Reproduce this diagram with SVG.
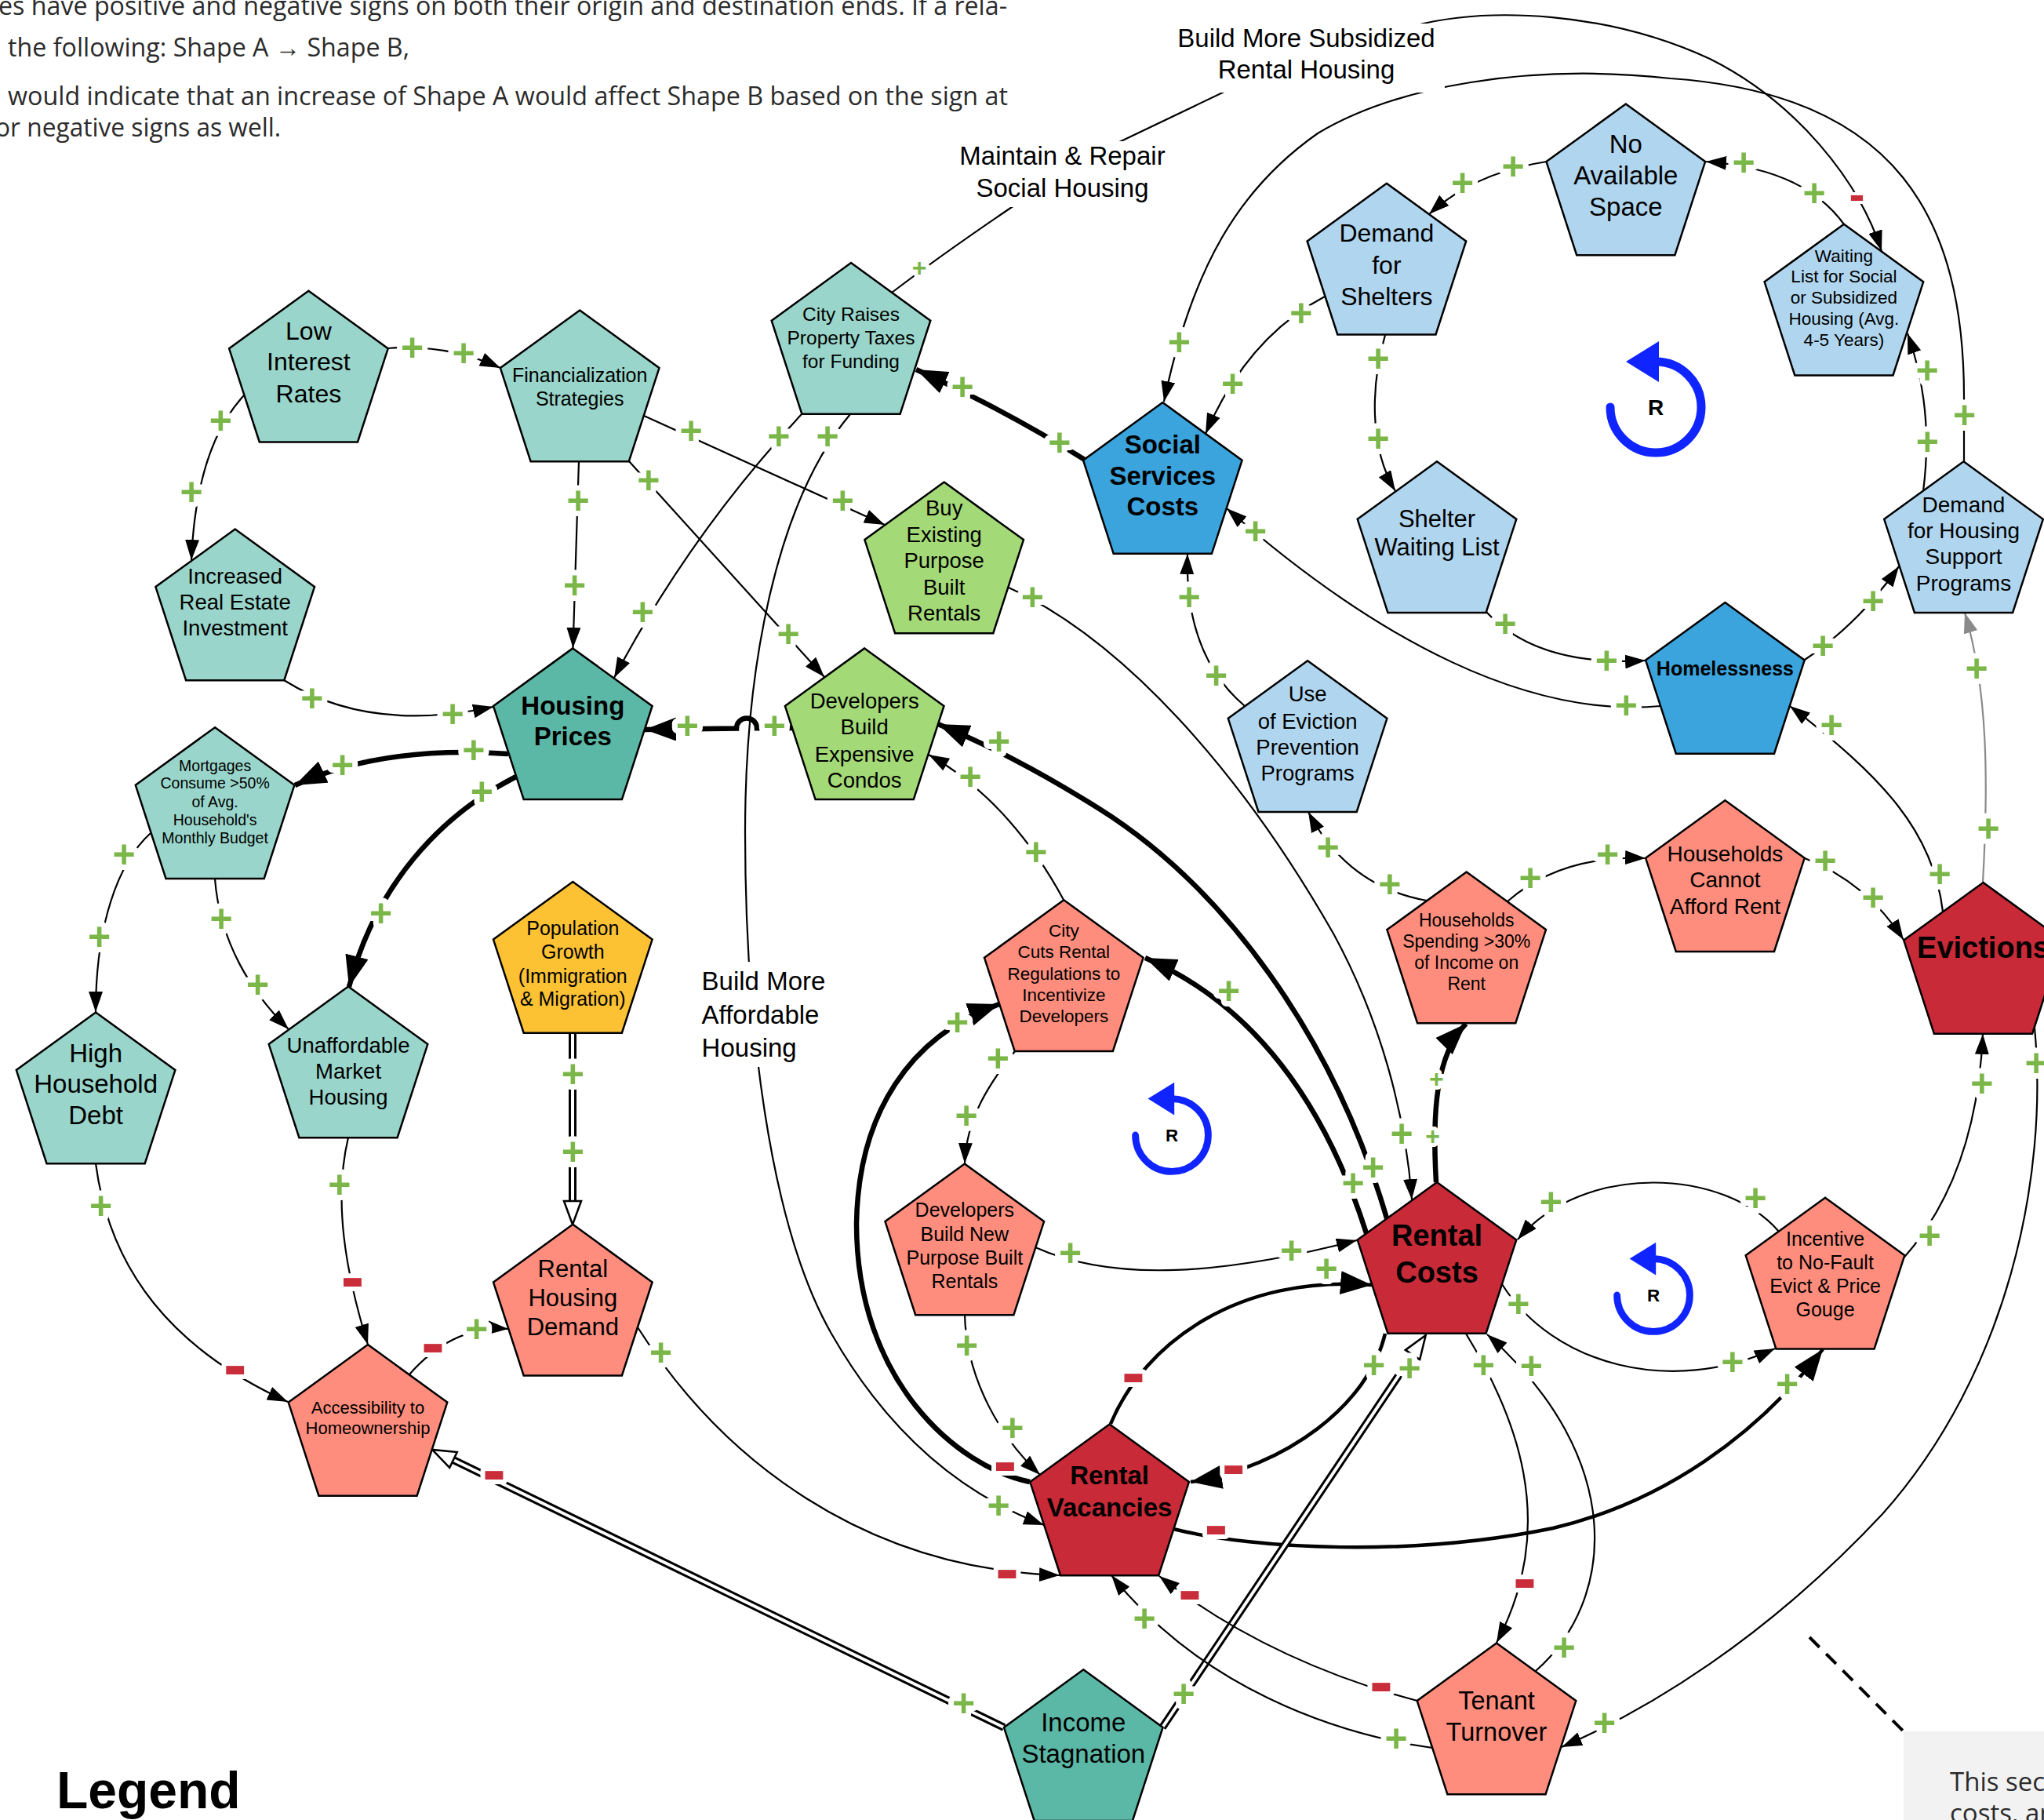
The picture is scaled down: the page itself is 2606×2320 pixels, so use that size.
<svg xmlns="http://www.w3.org/2000/svg" width="2606" height="2320" viewBox="0 0 2606 2320">
<style>
.c{fill:none;stroke:#000;stroke-width:2.2}
.k{stroke-width:6.5}
.k5{stroke-width:4.5}
.gy{stroke:#8a8a8a}
.do{fill:none;stroke:#000;stroke-width:10}
.di{fill:none;stroke:#fff;stroke-width:4}
.nd{stroke:#000;stroke-width:2.5}
.teal{fill:#99d5ca}.dteal{fill:#5cb8a6}.green{fill:#a4d977}.yellow{fill:#fcc234}.lblue{fill:#b0d6ef}.blue{fill:#3ba4dd}.salmon{fill:#ff8d7d}.red{fill:#c82a38}
text{font-family:"Liberation Sans",Arial,Helvetica,sans-serif}
.nt{text-anchor:middle;fill:#000}
.b{font-weight:bold}
.p{font-weight:bold;font-size:50px;fill:#7ab648;text-anchor:middle;paint-order:stroke;stroke:#fff;stroke-width:14px;stroke-linejoin:round}
.ps{font-size:32px;stroke-width:10px}
.m{font-weight:bold;font-size:90px;fill:#c92d39;text-anchor:middle;paint-order:stroke;stroke:#fff;stroke-width:12px;stroke-linejoin:round}
.ms{font-size:60px;stroke-width:8px}
.lbl{font-size:33px;text-anchor:middle;fill:#000}
.para{font-family:"Open Sans","Liberation Sans",sans-serif;font-size:33px;fill:#2b2b2b}
.loop{fill:none;stroke:#1024ff;stroke-width:11;stroke-linecap:round}
</style>
<defs>
<path id="pent" class="nd" d="M0,-106.5 L101.3,-32.9 L62.6,86.2 L-62.6,86.2 L-101.3,-32.9 Z"/>
<marker id="a" viewBox="0 0 26 18" refX="26" refY="9" markerWidth="26" markerHeight="18" markerUnits="userSpaceOnUse" orient="auto"><path d="M0,0 L26,9 L0,18 z" fill="#000"/></marker>
<marker id="bg" viewBox="0 0 40 30" refX="40" refY="15" markerWidth="40" markerHeight="30" markerUnits="userSpaceOnUse" orient="auto"><path d="M0,0 L40,15 L0,30 z" fill="#000"/></marker>
<marker id="g" viewBox="0 0 26 18" refX="26" refY="9" markerWidth="26" markerHeight="18" markerUnits="userSpaceOnUse" orient="auto"><path d="M0,0 L26,9 L0,18 z" fill="#8a8a8a"/></marker>
<marker id="h" viewBox="-2 -2 34 26" refX="0" refY="11" markerWidth="34" markerHeight="26" markerUnits="userSpaceOnUse" orient="auto"><path d="M0,0 L30,11 L0,22 z" fill="#fff" stroke="#000" stroke-width="2.5"/></marker>
<g id="loopicon">
<path class="loop" d="M-58,0 A58,58 0 1 0 0,-58"/>
<polygon points="-38,-58 4,-84 4,-32" fill="#1024ff"/>
<text x="0" y="10" class="nt b" font-size="28">R</text>
</g>
</defs>

<g id="intro-text">
<text class="para" x="-2" y="19" textLength="1286" lengthAdjust="spacingAndGlyphs">es have positive and negative signs on both their origin and destination ends. If a rela-</text>
<text class="para" x="10" y="72" textLength="512" lengthAdjust="spacingAndGlyphs">the following: Shape A → Shape B,</text>
<text class="para" x="10" y="134" textLength="1275" lengthAdjust="spacingAndGlyphs">would indicate that an increase of Shape A would affect Shape B based on the sign at</text>
<text class="para" x="-6" y="174" textLength="364" lengthAdjust="spacingAndGlyphs">or negative signs as well.</text>
</g>

<g id="connectors">
<path class="c" marker-end="url(#a)" d="M495 444 Q570 438 638 469"/>
<path class="c" marker-end="url(#a)" d="M311 504 Q250 570 244 714"/>
<path class="c" marker-end="url(#a)" d="M738 588 Q735 700 730.5 826"/>
<path class="c" marker-end="url(#a)" d="M802 588 L1051 863"/>
<path class="c" marker-end="url(#a)" d="M821 530 L1128 669"/>
<path class="c" marker-end="url(#a)" d="M362 867 Q470 935 629 901"/>
<path class="c" marker-end="url(#a)" d="M1022 528 Q880 680 783 864"/>
<path class="c" marker-end="url(#a)" d="M1084 528 C990 640 950 850 950 1060 C950 1300 980 1560 1060 1700 C1140 1840 1240 1910 1331 1944"/>
<path class="c" marker-end="url(#a)" d="M1137 373 Q1200 325 1290 264 L1425 182 L1565 115 L1802 33 C1900 8 2050 15 2180 75 C2290 130 2370 230 2399 320"/>
<path class="c k" marker-end="url(#bg)" d="M1383 586 Q1280 522 1168 471"/>
<path class="c" marker-end="url(#a)" d="M2504 588 L2504 510 C2505 280 2420 120 2130 100 C1950 80 1780 110 1680 170 C1580 240 1520 340 1484 512"/>
<path class="c" marker-end="url(#a)" d="M1689 378 Q1590 430 1537 553"/>
<path class="c" marker-end="url(#a)" d="M1972 206 Q1880 220 1822 273"/>
<path class="c" marker-end="url(#a)" d="M2351 286 Q2300 215 2175 206"/>
<path class="c" marker-end="url(#a)" d="M2452 626 Q2466 520 2432 425"/>
<path class="c" marker-end="url(#a)" d="M1766 427 C1748 490 1745 570 1779 626"/>
<path class="c" marker-end="url(#a)" d="M1895 780 Q1960 850 2098 842"/>
<path class="c" marker-end="url(#a)" d="M2301 841 Q2370 795 2421 722"/>
<path class="c" marker-end="url(#a)" d="M2117 900 C1950 915 1760 820 1564 648"/>
<path class="c" marker-end="url(#a)" d="M1587 900 Q1510 835 1514 706"/>
<path class="c" marker-end="url(#a)" d="M1819 1148 Q1718 1130 1668 1035"/>
<path class="c" marker-end="url(#a)" d="M1922 1149 Q1990 1090 2098 1094"/>
<path class="c" marker-end="url(#a)" d="M2301 1094 Q2380 1125 2427 1198"/>
<path class="c" marker-end="url(#a)" d="M2477 1162 C2465 1060 2400 990 2282 900"/>
<path class="c gy" marker-end="url(#g)" d="M2528 1125 C2535 1000 2535 880 2505 781"/>
<path class="c" marker-end="url(#a)" d="M2425 1606 Q2520 1500 2528 1318"/>
<path class="c" marker-end="url(#a)" d="M2594 1310 C2612 1500 2560 1750 2400 1930 C2250 2090 2100 2180 1991 2227"/>
<path class="c" marker-end="url(#a)" d="M1915 1637 C1980 1740 2130 1780 2263 1719"/>
<path class="c" marker-end="url(#a)" d="M2268 1570 C2200 1490 2020 1480 1935 1580"/>
<path class="c k5" marker-end="url(#bg)" d="M1496 1949 C1600 1975 1800 1985 1980 1948 C2120 1915 2240 1830 2324 1720"/>
<path class="c" marker-end="url(#a)" d="M1869 1700 C1930 1800 1990 1940 1908 2094"/>
<path class="c" marker-end="url(#a)" d="M1958 2130 C2060 2040 2075 1860 1896 1701"/>
<path class="c k5" marker-end="url(#bg)" d="M1416 1815 C1460 1710 1580 1625 1749 1638"/>
<path class="c k5" marker-end="url(#bg)" d="M1766 1700 C1745 1790 1640 1870 1518 1889"/>
<path class="do" d="M1482 2202 L1801 1727"/>
<path class="di" marker-end="url(#h)" d="M1482 2202 L1801 1727"/>
<path class="do" d="M1280 2202 L578 1861"/>
<path class="di" marker-end="url(#h)" d="M1280 2202 L578 1861"/>
<path class="c" marker-end="url(#a)" d="M1826 2228 C1700 2210 1530 2150 1417 2008"/>
<path class="c" marker-end="url(#a)" d="M1807 2168 C1700 2140 1580 2090 1478 2009"/>
<path class="c" marker-end="url(#a)" d="M1320 1590 C1420 1635 1560 1625 1730 1581"/>
<path class="c" marker-end="url(#a)" d="M1230 1676 C1232 1760 1278 1835 1326 1880"/>
<path class="c" marker-end="url(#a)" d="M1294 1340 C1262 1380 1232 1425 1230 1483"/>
<path class="c" marker-end="url(#a)" d="M1356 1147 C1320 1080 1262 1005 1184 962"/>
<path class="c k" marker-end="url(#bg)" d="M1313 1889 C1220 1870 1092 1760 1092 1560 C1094 1420 1160 1320 1274 1280"/>
<path class="c k" marker-end="url(#bg)" d="M1742 1572 C1700 1440 1620 1290 1460 1221"/>
<path class="c k" marker-end="url(#bg)" d="M1768 1553 C1700 1320 1560 1130 1400 1030 C1320 980 1260 950 1196 923"/>
<path class="c k" marker-end="url(#bg)" d="M1831 1507 C1826 1420 1830 1345 1869 1305"/>
<path class="c" marker-end="url(#a)" d="M1286 749 C1430 815 1580 980 1700 1190 C1760 1300 1792 1420 1800 1529"/>
<path class="c k" marker-end="url(#bg)" d="M1010 928 L965 928.3 A13 13 0 0 0 939 928.5 L822 930"/>
<path class="c k" marker-end="url(#bg)" d="M648 961 C560 955 460 962 376 1001"/>
<path class="c k" marker-end="url(#bg)" d="M658 990 C560 1040 478 1130 445 1258"/>
<path class="c" marker-end="url(#a)" d="M192 1062 C150 1100 122 1180 122 1290"/>
<path class="c" marker-end="url(#a)" d="M274 1120 C280 1200 320 1265 368 1312"/>
<path class="c" marker-end="url(#a)" d="M122 1483 C140 1620 220 1720 367 1787"/>
<path class="c" marker-end="url(#a)" d="M444 1450 C425 1530 440 1620 469 1714"/>
<path class="c" marker-end="url(#a)" d="M522 1752 C550 1720 590 1690 648 1694"/>
<path class="do" d="M730 1317 L730 1531"/>
<path class="di" marker-end="url(#h)" d="M730 1317 L730 1531"/>
<path class="c" marker-end="url(#a)" d="M813 1692 C920 1860 1100 2000 1351 2008"/>

<text class="p" x="525.5" y="460.4">+</text>
<text class="p" x="591" y="467">+</text>
<text class="p" x="281.4" y="553.3">+</text>
<text class="p" x="244.2" y="643.8">+</text>
<text class="p" x="737" y="654.7">+</text>
<text class="p" x="732.5" y="763.4">+</text>
<text class="p" x="826.8" y="629">+</text>
<text class="p" x="1005" y="824.6">+</text>
<text class="p" x="881" y="565.5">+</text>
<text class="p" x="1074.4" y="654.7">+</text>
<text class="p" x="397.9" y="907">+</text>
<text class="p" x="577" y="927.4">+</text>
<text class="p" x="992.9" y="573.1">+</text>
<text class="p" x="819.4" y="796.5">+</text>
<text class="p" x="1055" y="573">+</text>
<text class="p" x="1273" y="1936.2">+</text>
<text class="p" x="1350.8" y="580.5">+</text>
<text class="p" x="1227" y="510.3">+</text>
<text class="p" x="2504.6" y="546">+</text>
<text class="p" x="1503.4" y="453">+</text>
<text class="p" x="1658.8" y="416.4">+</text>
<text class="p" x="1571.7" y="506.4">+</text>
<text class="p" x="1929" y="228.6">+</text>
<text class="p" x="1864.7" y="250.3">+</text>
<text class="p" x="2313" y="263">+</text>
<text class="p" x="2223" y="223.6">+</text>
<text class="p" x="2457.4" y="579.5">+</text>
<text class="p" x="2457" y="489">+</text>
<text class="p" x="1757" y="474">+</text>
<text class="p" x="1757" y="575.6">+</text>
<text class="p" x="1919" y="812">+</text>
<text class="p" x="2048.4" y="859">+</text>
<text class="p" x="2324" y="840.4">+</text>
<text class="p" x="2388" y="783">+</text>
<text class="p" x="2073.4" y="916">+</text>
<text class="p" x="1600.5" y="694.2">+</text>
<text class="p" x="1550.6" y="878">+</text>
<text class="p" x="1516.2" y="778">+</text>
<text class="p" x="1771.9" y="1144">+</text>
<text class="p" x="1693" y="1096.7">+</text>
<text class="p" x="1951" y="1136">+</text>
<text class="p" x="2049.5" y="1106.4">+</text>
<text class="p" x="2327" y="1113.8">+</text>
<text class="p" x="2388" y="1160.7">+</text>
<text class="p" x="2473" y="1131">+</text>
<text class="p" x="2335" y="940.8">+</text>
<text class="p" x="2535" y="1072.7">+</text>
<text class="p" x="2520" y="869">+</text>
<text class="p" x="2460" y="1591.7">+</text>
<text class="p" x="2526.8" y="1398">+</text>
<text class="p" x="2596" y="1372">+</text>
<text class="p" x="2045.7" y="2213">+</text>
<text class="p" x="1935.8" y="1679">+</text>
<text class="p" x="2208.8" y="1753">+</text>
<text class="p" x="2238" y="1543.8">+</text>
<text class="p" x="1977.4" y="1548.8">+</text>
<text class="p" x="2278.7" y="1780.5">+</text>
<text class="p" x="1891.4" y="1756.8">+</text>
<text class="p" x="1994" y="2116.6">+</text>
<text class="p" x="1952.4" y="1758.3">+</text>
<text class="p" x="1691" y="1634.3">+</text>
<text class="p" x="1751.5" y="1757">+</text>
<text class="p" x="1509" y="2176">+</text>
<text class="p" x="1797" y="1760.7">+</text>
<text class="p" x="1228.7" y="2188.3">+</text>
<text class="p" x="1780" y="2233">+</text>
<text class="p" x="1459" y="2079.6">+</text>
<text class="p" x="1364.7" y="1614">+</text>
<text class="p" x="1646.6" y="1611">+</text>
<text class="p" x="1232.6" y="1732">+</text>
<text class="p" x="1290.8" y="1837">+</text>
<text class="p" x="1272.3" y="1365.6">+</text>
<text class="p" x="1232" y="1438.7">+</text>
<text class="p" x="1320.8" y="1102.6">+</text>
<text class="p" x="1237" y="1007">+</text>
<text class="p" x="1220.5" y="1320">+</text>
<text class="p" x="1725" y="1525.3">+</text>
<text class="p" x="1566.7" y="1279.8">+</text>
<text class="p" x="1750.7" y="1505.3">+</text>
<text class="p" x="1273.5" y="962.2">+</text>
<text class="p" x="1316.4" y="778">+</text>
<text class="p" x="1787" y="1462">+</text>
<text class="p" x="987.3" y="942">+</text>
<text class="p" x="876.3" y="942.2">+</text>
<text class="p" x="603.8" y="973">+</text>
<text class="p" x="436.7" y="991.7">+</text>
<text class="p" x="614.3" y="1026.3">+</text>
<text class="p" x="485.6" y="1180.5">+</text>
<text class="p" x="158.2" y="1106.4">+</text>
<text class="p" x="126.5" y="1211">+</text>
<text class="p" x="282" y="1188">+</text>
<text class="p" x="328.5" y="1272">+</text>
<text class="p" x="128.7" y="1553.7">+</text>
<text class="p" x="432.8" y="1526.5">+</text>
<text class="p" x="607.6" y="1711.3">+</text>
<text class="p" x="730.3" y="1385.6">+</text>
<text class="p" x="730.3" y="1484.5">+</text>
<text class="p" x="842.6" y="1740.5">+</text>
<text class="p ps" x="1172" y="352">+</text>
<text class="p ps" x="1826.7" y="1459">+</text>
<text class="p ps" x="1831.4" y="1386">+</text>

<text class="m ms" x="2367.5" y="268">-</text>
<text class="m" x="1550.6" y="1974.3">-</text>
<text class="m" x="1944" y="2041.6">-</text>
<text class="m" x="1445" y="1779.6">-</text>
<text class="m" x="1572.8" y="1896.7">-</text>
<text class="m" x="629.9" y="1904">-</text>
<text class="m" x="1761" y="2173.5">-</text>
<text class="m" x="1517" y="2057">-</text>
<text class="m" x="1281.4" y="1893">-</text>
<text class="m" x="299.7" y="1769.7">-</text>
<text class="m" x="449.5" y="1658">-</text>
<text class="m" x="552" y="1742">-</text>
<text class="m" x="1284" y="2030">-</text>
</g>

<g id="edge-labels">
<rect x="1218" y="180" width="272" height="84" fill="#fff"/>
<text class="lbl" x="1354.5" y="210">Maintain &amp; Repair</text>
<text class="lbl" x="1354.5" y="251">Social Housing</text>
<rect x="1490" y="30" width="352" height="88" fill="#fff"/>
<text class="lbl" x="1665.5" y="60">Build More Subsidized</text>
<text class="lbl" x="1665.5" y="100">Rental Housing</text>
<rect x="890" y="1226" width="172" height="134" fill="#fff"/>
<text x="894.6" y="1262" font-size="33" fill="#000">Build More</text>
<text x="894.6" y="1305" font-size="33" fill="#000">Affordable</text>
<text x="894.6" y="1347" font-size="33" fill="#000">Housing</text>
</g>

<g id="loops">
<use href="#loopicon" transform="translate(2111,519)"/>
<use href="#loopicon" transform="translate(1494,1447) scale(0.8)"/>
<use href="#loopicon" transform="translate(2108,1651) scale(0.8)"/>
</g>

<g id="n-low-interest" transform="translate(393.4,477.2)"><use href="#pent" class="teal"/><text class="nt" font-size="32"><tspan x="0" y="-44.7">Low</tspan><tspan x="0" y="-5">Interest</tspan><tspan x="0" y="35.4">Rates</tspan></text></g>
<g id="n-financialization" transform="translate(739.2,502)"><use href="#pent" class="teal"/><text class="nt" font-size="25"><tspan x="0" y="-15">Financialization</tspan><tspan x="0" y="14.6">Strategies</tspan></text></g>
<g id="n-city-taxes" transform="translate(1085,441.6)"><use href="#pent" class="teal"/><text class="nt" font-size="24.5"><tspan x="0" y="-32.8">City Raises</tspan><tspan x="0" y="-3.1">Property Taxes</tspan><tspan x="0" y="27">for Funding</tspan></text></g>
<g id="n-real-estate" transform="translate(299.7,781)"><use href="#pent" class="teal"/><text class="nt" font-size="27.5"><tspan x="0" y="-37">Increased</tspan><tspan x="0" y="-4">Real Estate</tspan><tspan x="0" y="29">Investment</tspan></text></g>
<g id="n-housing-prices" transform="translate(730.3,932.9)"><use href="#pent" class="dteal"/><text class="nt b" font-size="33"><tspan x="0" y="-21.5">Housing</tspan><tspan x="0" y="17">Prices</tspan></text></g>
<g id="n-mortgages" transform="translate(274.1,1033.7)"><use href="#pent" class="teal"/><text class="nt" font-size="19.5"><tspan x="0" y="-50.7">Mortgages</tspan><tspan x="0" y="-28.4">Consume &gt;50%</tspan><tspan x="0" y="-4.7">of Avg.</tspan><tspan x="0" y="18.6">Household's</tspan><tspan x="0" y="41.8">Monthly Budget</tspan></text></g>
<g id="n-household-debt" transform="translate(122.1,1397)"><use href="#pent" class="teal"/><text class="nt" font-size="33"><tspan x="0" y="-43.2">High</tspan><tspan x="0" y="-3.6">Household</tspan><tspan x="0" y="35.9">Debt</tspan></text></g>
<g id="n-unaffordable" transform="translate(444,1364)"><use href="#pent" class="teal"/><text class="nt" font-size="27.5"><tspan x="0" y="-22.5">Unaffordable</tspan><tspan x="0" y="10.6">Market</tspan><tspan x="0" y="44.2">Housing</tspan></text></g>
<g id="n-population" transform="translate(730.3,1230.5)"><use href="#pent" class="yellow"/><text class="nt" font-size="25"><tspan x="0" y="-38.3">Population</tspan><tspan x="0" y="-8.7">Growth</tspan><tspan x="0" y="22">(Immigration</tspan><tspan x="0" y="51.7">&amp; Migration)</tspan></text></g>
<g id="n-rental-demand" transform="translate(730.3,1667.3)"><use href="#pent" class="salmon"/><text class="nt" font-size="31"><tspan x="0" y="-39.7">Rental</tspan><tspan x="0" y="-2.7">Housing</tspan><tspan x="0" y="34.4">Demand</tspan></text></g>
<g id="n-accessibility" transform="translate(469,1820.5)"><use href="#pent" class="salmon"/><text class="nt" font-size="22"><tspan x="0" y="-18.9">Accessibility to</tspan><tspan x="0" y="7.3">Homeownership</tspan></text></g>
<g id="n-buy-existing" transform="translate(1203.7,721)"><use href="#pent" class="green"/><text class="nt" font-size="27.5"><tspan x="0" y="-63.6">Buy</tspan><tspan x="0" y="-30.4">Existing</tspan><tspan x="0" y="3.2">Purpose</tspan><tspan x="0" y="36.8">Built</tspan><tspan x="0" y="70">Rentals</tspan></text></g>
<g id="n-condos" transform="translate(1102.2,932.9)"><use href="#pent" class="green"/><text class="nt" font-size="27.5"><tspan x="0" y="-30.4">Developers</tspan><tspan x="0" y="3.2">Build</tspan><tspan x="0" y="37.8">Expensive</tspan><tspan x="0" y="70.9">Condos</tspan></text></g>
<g id="n-social-services" transform="translate(1482.3,619.6)"><use href="#pent" class="blue"/><text class="nt b" font-size="33"><tspan x="0" y="-41.3">Social</tspan><tspan x="0" y="-1.7">Services</tspan><tspan x="0" y="37.8">Costs</tspan></text></g>
<g id="n-shelter-demand" transform="translate(1767.9,340.3)"><use href="#pent" class="lblue"/><text class="nt" font-size="32"><tspan x="0" y="-32.8">Demand</tspan><tspan x="0" y="8.2">for</tspan><tspan x="0" y="49.2">Shelters</tspan></text></g>
<g id="n-no-space" transform="translate(2072.8,239)"><use href="#pent" class="lblue"/><text class="nt" font-size="33"><tspan x="0" y="-43.7">No</tspan><tspan x="0" y="-4.2">Available</tspan><tspan x="0" y="36.3">Space</tspan></text></g>
<g id="n-waiting-list" transform="translate(2350.9,392.2)"><use href="#pent" class="lblue"/><text class="nt" font-size="22.5"><tspan x="0" y="-58.5">Waiting</tspan><tspan x="0" y="-32.3">List for Social</tspan><tspan x="0" y="-5.2">or Subsidized</tspan><tspan x="0" y="22">Housing (Avg.</tspan><tspan x="0" y="49.2">4-5 Years)</tspan></text></g>
<g id="n-shelter-waiting" transform="translate(1832,694.7)"><use href="#pent" class="lblue"/><text class="nt" font-size="31"><tspan x="0" y="-22.4">Shelter</tspan><tspan x="0" y="13.7">Waiting List</tspan></text></g>
<g id="n-eviction-prevention" transform="translate(1667.1,948.7)"><use href="#pent" class="lblue"/><text class="nt" font-size="27.5"><tspan x="0" y="-54.6">Use</tspan><tspan x="0" y="-20">of Eviction</tspan><tspan x="0" y="13.6">Prevention</tspan><tspan x="0" y="46.7">Programs</tspan></text></g>
<g id="n-homelessness" transform="translate(2199.4,874.5)"><use href="#pent" class="blue"/><text class="nt b" font-size="25"><tspan x="0" y="-13.5">Homelessness</tspan></text></g>
<g id="n-housing-support" transform="translate(2503.5,694.7)"><use href="#pent" class="lblue"/><text class="nt" font-size="28"><tspan x="0" y="-42.2">Demand</tspan><tspan x="0" y="-8.6">for Housing</tspan><tspan x="0" y="24.5">Support</tspan><tspan x="0" y="58.1">Programs</tspan></text></g>
<g id="n-cannot-afford" transform="translate(2199.4,1126.7)"><use href="#pent" class="salmon"/><text class="nt" font-size="28"><tspan x="0" y="-28.4">Households</tspan><tspan x="0" y="4.7">Cannot</tspan><tspan x="0" y="38.3">Afford Rent</tspan></text></g>
<g id="n-spending" transform="translate(1869.7,1218)"><use href="#pent" class="salmon"/><text class="nt" font-size="23"><tspan x="0" y="-36.7">Households</tspan><tspan x="0" y="-10">Spending &gt;30%</tspan><tspan x="0" y="17.2">of Income on</tspan><tspan x="0" y="44.4">Rent</tspan></text></g>
<g id="n-evictions" transform="translate(2528.5,1231.5)"><use href="#pent" class="red"/><text class="nt b" font-size="38"><tspan x="0" y="-11">Evictions</tspan></text></g>
<g id="n-city-cuts" transform="translate(1356.3,1253.7)"><use href="#pent" class="salmon"/><text class="nt" font-size="22.5"><tspan x="0" y="-59.5">City</tspan><tspan x="0" y="-32.4">Cuts Rental</tspan><tspan x="0" y="-5.2">Regulations to</tspan><tspan x="0" y="22">Incentivize</tspan><tspan x="0" y="49.2">Developers</tspan></text></g>
<g id="n-new-rentals" transform="translate(1229.8,1590)"><use href="#pent" class="salmon"/><text class="nt" font-size="25"><tspan x="0" y="-39">Developers</tspan><tspan x="0" y="-8.4">Build New</tspan><tspan x="0" y="21.7">Purpose Built</tspan><tspan x="0" y="52.4">Rentals</tspan></text></g>
<g id="n-rental-costs" transform="translate(1832,1613.5)"><use href="#pent" class="red"/><text class="nt b" font-size="38"><tspan x="0" y="-25.5">Rental</tspan><tspan x="0" y="21.5">Costs</tspan></text></g>
<g id="n-incentive" transform="translate(2327,1633.2)"><use href="#pent" class="salmon"/><text class="nt" font-size="25"><tspan x="0" y="-45.2">Incentive</tspan><tspan x="0" y="-15.5">to No-Fault</tspan><tspan x="0" y="15.1">Evict &amp; Price</tspan><tspan x="0" y="45.3">Gouge</tspan></text></g>
<g id="n-vacancies" transform="translate(1414.6,1922)"><use href="#pent" class="red"/><text class="nt b" font-size="33"><tspan x="0" y="-30">Rental</tspan><tspan x="0" y="10.6">Vacancies</tspan></text></g>
<g id="n-income" transform="translate(1381.3,2234.8)"><use href="#pent" class="dteal"/><text class="nt" font-size="33"><tspan x="0" y="-27.4">Income</tspan><tspan x="0" y="12.2">Stagnation</tspan></text></g>
<g id="n-turnover" transform="translate(1908,2201)"><use href="#pent" class="salmon"/><text class="nt" font-size="32.5"><tspan x="0" y="-22.3">Tenant</tspan><tspan x="0" y="18.3">Turnover</tspan></text></g>

<g id="legend">
<text x="72" y="2305" font-size="66" font-weight="bold" fill="#000">Legend</text>
</g>
<g id="note">
<line x1="2307" y1="2087" x2="2427" y2="2207" stroke="#000" stroke-width="4" stroke-dasharray="18 12"/>
<rect x="2427" y="2207" width="179" height="113" fill="#f2f2f2"/>
<text class="para" x="2486" y="2283" font-size="31">This section</text>
<text class="para" x="2486" y="2323" font-size="31">costs, and</text>
</g>
</svg>
